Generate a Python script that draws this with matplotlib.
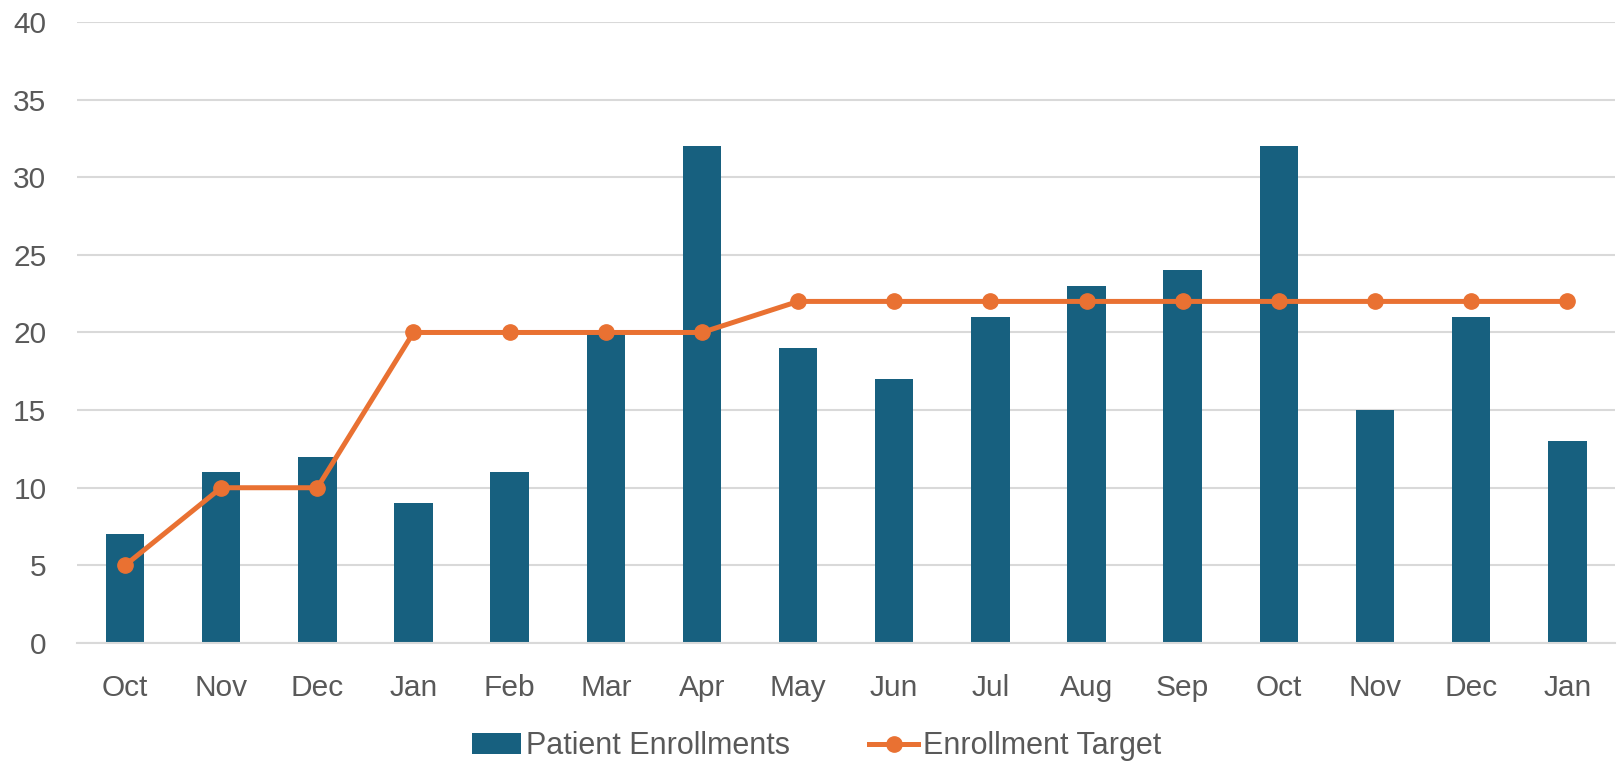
import matplotlib
matplotlib.use("Agg")
import matplotlib.pyplot as plt
import numpy as np

plt.rcParams['font.family'] = ['Liberation Sans', 'DejaVu Sans']

# chart data
months = ['Oct', 'Nov', 'Dec', 'Jan', 'Feb', 'Mar', 'Apr', 'May',
          'Jun', 'Jul', 'Aug', 'Sep', 'Oct', 'Nov', 'Dec', 'Jan']
enrollments = [7, 11, 12, 9, 11, 20, 32, 19, 17, 21, 23, 24, 32, 15, 21, 13]
target = [5, 10, 10, 20, 20, 20, 20, 22, 22, 22, 22, 22, 22, 22, 22, 22]

bar_color = '#17607f'
line_color = '#e97132'
text_color = '#595959'
grid_color = '#d9d9d9'

fig = plt.figure(figsize=(16.17, 7.63), dpi=100)
ax = fig.add_axes([0.0476, 0.1573, 0.9514, 0.8139])

x = np.arange(len(months))
bars = ax.bar(x, enrollments, width=0.4, color=bar_color, label='Patient Enrollments', zorder=2)
line, = ax.plot(x, target, color=line_color, lw=3.6, marker='o', markersize=11,
                label='Enrollment Target', zorder=3)

ax.set_xlim(-0.5, len(months) - 0.5)
ax.set_ylim(0, 40)
ax.set_yticks(range(0, 41, 5))
ax.set_xticks(x)
ax.set_xticklabels(months)

ax.grid(axis='y', color=grid_color, lw=1.5, zorder=0)
ax.set_axisbelow(True)
for s in ['top', 'right', 'left']:
    ax.spines[s].set_visible(False)
ax.spines['bottom'].set_color(grid_color)
ax.spines['bottom'].set_linewidth(1.5)

ax.tick_params(axis='both', length=0, labelsize=21.5, labelcolor=text_color)
ax.tick_params(axis='y', pad=22)
ax.tick_params(axis='x', pad=22)

leg = fig.legend([bars, line], ['Patient Enrollments', 'Enrollment Target'],
                 loc='center', bbox_to_anchor=(0.505, 0.022),
                 ncol=2, frameon=False, fontsize=22, handlelength=1.6,
                 handletextpad=0.15, columnspacing=2.6)
for t in leg.get_texts():
    t.set_color(text_color)

fig.savefig('out.png', dpi=100)
